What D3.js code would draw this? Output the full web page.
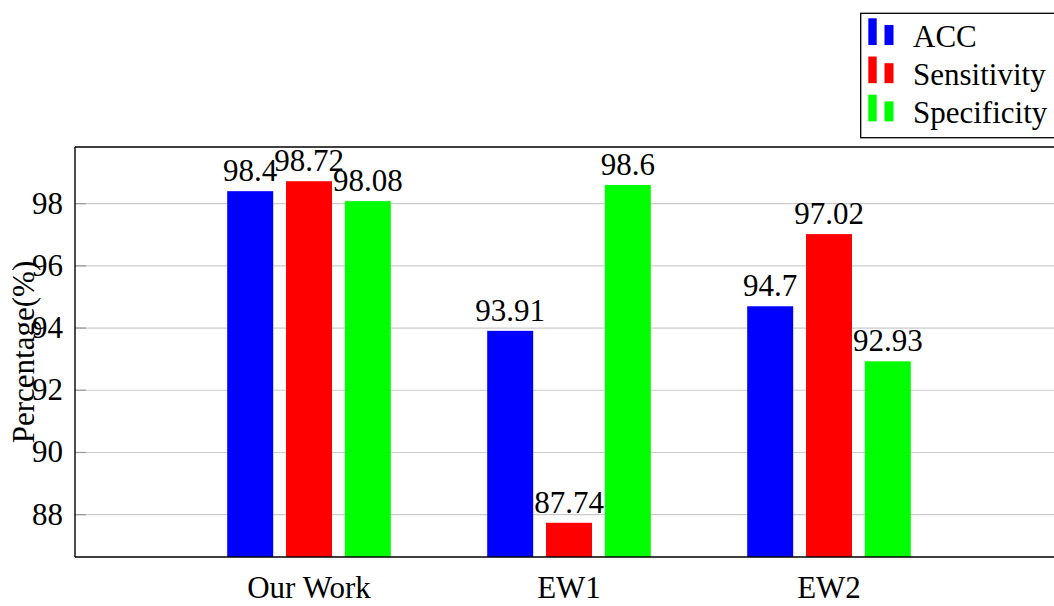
<!DOCTYPE html>
<html><head><meta charset="utf-8">
<script src="https://cdn.jsdelivr.net/npm/d3@7"></script>
<style>body{margin:0;background:#fff}svg{display:block}</style>
</head><body>
<svg id="c" width="1054" height="606" font-family="'Liberation Serif', 'Times New Roman', Times, serif"></svg>
<script>
const categories = ["Our Work", "EW1", "EW2"];
const seriesNames = ["ACC", "Sensitivity", "Specificity"];
const accValues = [98.4, 93.91, 94.7];
const sensitivityValues = [98.72, 87.74, 97.02];
const specificityValues = [98.08, 98.6, 92.93];
const yTicks = [88, 90, 92, 94, 96, 98];
const valueLabels = [["98.4","93.91","94.7"],["98.72","87.74","97.02"],["98.08","98.6","92.93"]];
const colors = ["#0000ff", "#ff0000", "#00ff00"];

const series = [accValues, sensitivityValues, specificityValues];
const svg = d3.select("#c");
const L = 75, T = 147, B = 557, R = 1063;
const FS = 31;
const x = d3.scaleLinear().domain([-0.9, 2.9]).range([L, R]);
const y = d3.scaleLinear().domain([86.64, 99.82]).range([B, T]);
const inner = d3.scaleBand().domain(seriesNames).range([-81.8, 81.8]).paddingInner(0.218).paddingOuter(0);

// grid
svg.append("g").selectAll("line").data(yTicks).join("line")
  .attr("x1", L).attr("x2", 1054).attr("y1", d => y(d)).attr("y2", d => y(d))
  .attr("stroke", "#cccccc").attr("stroke-width", 1.2);
svg.append("g").selectAll("line").data(yTicks).join("line")
  .attr("x1", L).attr("x2", L + 11).attr("y1", d => y(d)).attr("y2", d => y(d))
  .attr("stroke", "#999").attr("stroke-width", 1.2);

// bars
series.forEach((vals, si) => {
  const g = svg.append("g");
  g.selectAll("rect").data(vals).join("rect")
    .attr("x", (d, i) => x(i) + inner(seriesNames[si]))
    .attr("width", inner.bandwidth())
    .attr("y", d => y(d))
    .attr("height", d => B - y(d))
    .attr("fill", colors[si]);
  g.selectAll("text").data(vals).join("text")
    .attr("x", (d, i) => x(i) + inner(seriesNames[si]) + inner.bandwidth() / 2)
    .attr("y", d => y(d) - 10)
    .attr("text-anchor", "middle").attr("font-size", FS)
    .text((d, i) => valueLabels[si][i]);
});

// axes lines
svg.append("line").attr("x1", L).attr("x2", L).attr("y1", T).attr("y2", B).attr("stroke", "#000").attr("stroke-width", 1.4);
svg.append("line").attr("x1", L).attr("x2", 1054).attr("y1", T).attr("y2", T).attr("stroke", "#000").attr("stroke-width", 1.4);
svg.append("line").attr("x1", L).attr("x2", 1054).attr("y1", B).attr("y2", B).attr("stroke", "#000").attr("stroke-width", 1.4);

// y tick labels
svg.append("g").selectAll("text").data(yTicks).join("text")
  .attr("x", 63).attr("y", d => y(d) + 10).attr("text-anchor", "end").attr("font-size", FS)
  .text(d => d);

// x labels
svg.append("g").selectAll("text").data(categories).join("text")
  .attr("x", (d, i) => x(i)).attr("y", 598).attr("text-anchor", "middle").attr("font-size", FS)
  .text(d => d);

// y label
svg.append("text").attr("transform", `translate(34,${(T + B) / 2}) rotate(-90)`)
  .attr("text-anchor", "middle").attr("font-size", FS).text("Percentage(%)");

// legend
const lg = svg.append("g");
lg.append("rect").attr("x", 860.7).attr("y", 13.3).attr("width", 200).attr("height", 124.4)
  .attr("fill", "#fff").attr("stroke", "#000").attr("stroke-width", 1.3);
seriesNames.forEach((n, i) => {
  const oy = i * 38.2;
  lg.append("rect").attr("x", 868.3).attr("y", 18.3 + oy).attr("width", 8.4).attr("height", 26.7).attr("fill", colors[i]);
  lg.append("rect").attr("x", 884.5).attr("y", 25 + oy).attr("width", 9).attr("height", 20).attr("fill", colors[i]);
  lg.append("text").attr("x", 913).attr("y", 46.7 + oy).attr("font-size", FS).text(n);
});
</script>
</body></html>
